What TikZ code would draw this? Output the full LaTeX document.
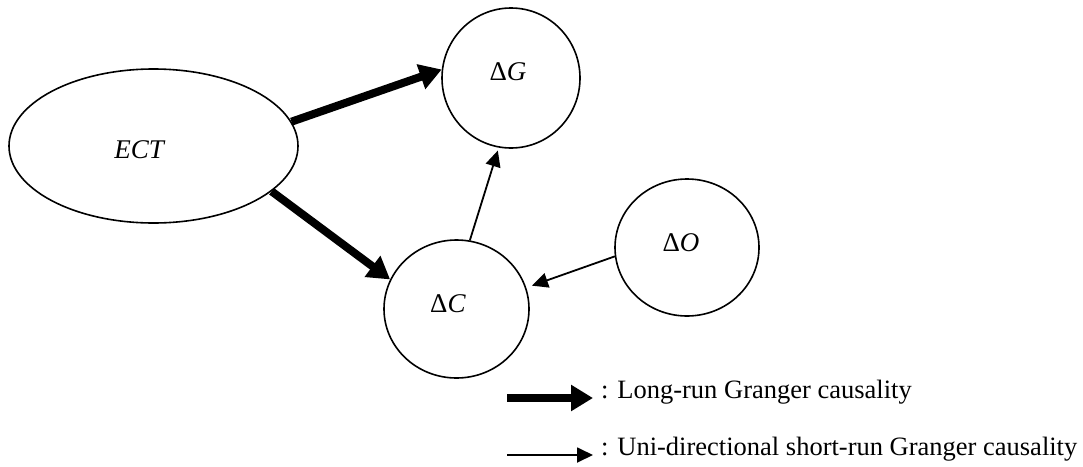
\documentclass[tikz,border=0pt]{standalone}
\usepackage{fontspec}
\setmainfont{Liberation Serif}
\usetikzlibrary{arrows.meta,shapes.geometric}
\begin{document}
\begin{tikzpicture}[x=1pt,y=-1pt,
  var/.style={draw,line width=1.6pt,ellipse,inner sep=0pt},
  lab/.style={anchor=base,inner sep=0pt,font=\fontsize{27}{32}\selectfont},
  longrun/.style={line width=8pt,-{Triangle[length=22pt,width=25pt]}},
  shortrun/.style={line width=1.8pt,-{Triangle[length=16pt,width=15pt]}},
  legtext/.style={anchor=base west,inner sep=0pt,font=\fontsize{26.5}{31}\selectfont}]
\useasboundingbox (0,0) rectangle (1083,466);
% variables (outlines)
\node[var,minimum width=289pt,minimum height=154pt] (ect) at (153.5,146) {};
\node[var,minimum width=138pt,minimum height=140pt] (dg) at (511,78) {};
\node[var,minimum width=145pt,minimum height=138pt] (dc) at (456.5,309) {};
\node[var,minimum width=144pt,minimum height=137pt] (do) at (687,247.5) {};
% variable names
\node[lab] (ectL) at (140,158) {\textit{ECT}};
\node[lab] (dgL) at (508,80) {Δ\textit{G}};
\node[lab] (dcL) at (448,312) {Δ\textit{C}};
\node[lab] (doL) at (681,251) {Δ\textit{O}};
% causal links
\draw[longrun] (ect.10) -- (dg.173);
\draw[longrun] (ect.-21) -- (dc.156);
\draw[shortrun,shorten >=3pt] (dc.79) -- (dg.-100);
\draw[shortrun,shorten >=6pt] (do.187) -- (dc.17);
% legend
\coordinate (a1) at (507,398);
\coordinate (b1) at (593,398);
\coordinate (a2) at (507,455);
\coordinate (b2) at (593,455);
\draw[longrun] (a1) -- (b1);
\draw[shortrun] (a2) -- (b2);
\node[legtext] (t1) at (601,398) {: Long-run Granger causality};
\node[legtext] (t2) at (601,455) {: Uni-directional short-run Granger causality};
\end{tikzpicture}
\end{document}
